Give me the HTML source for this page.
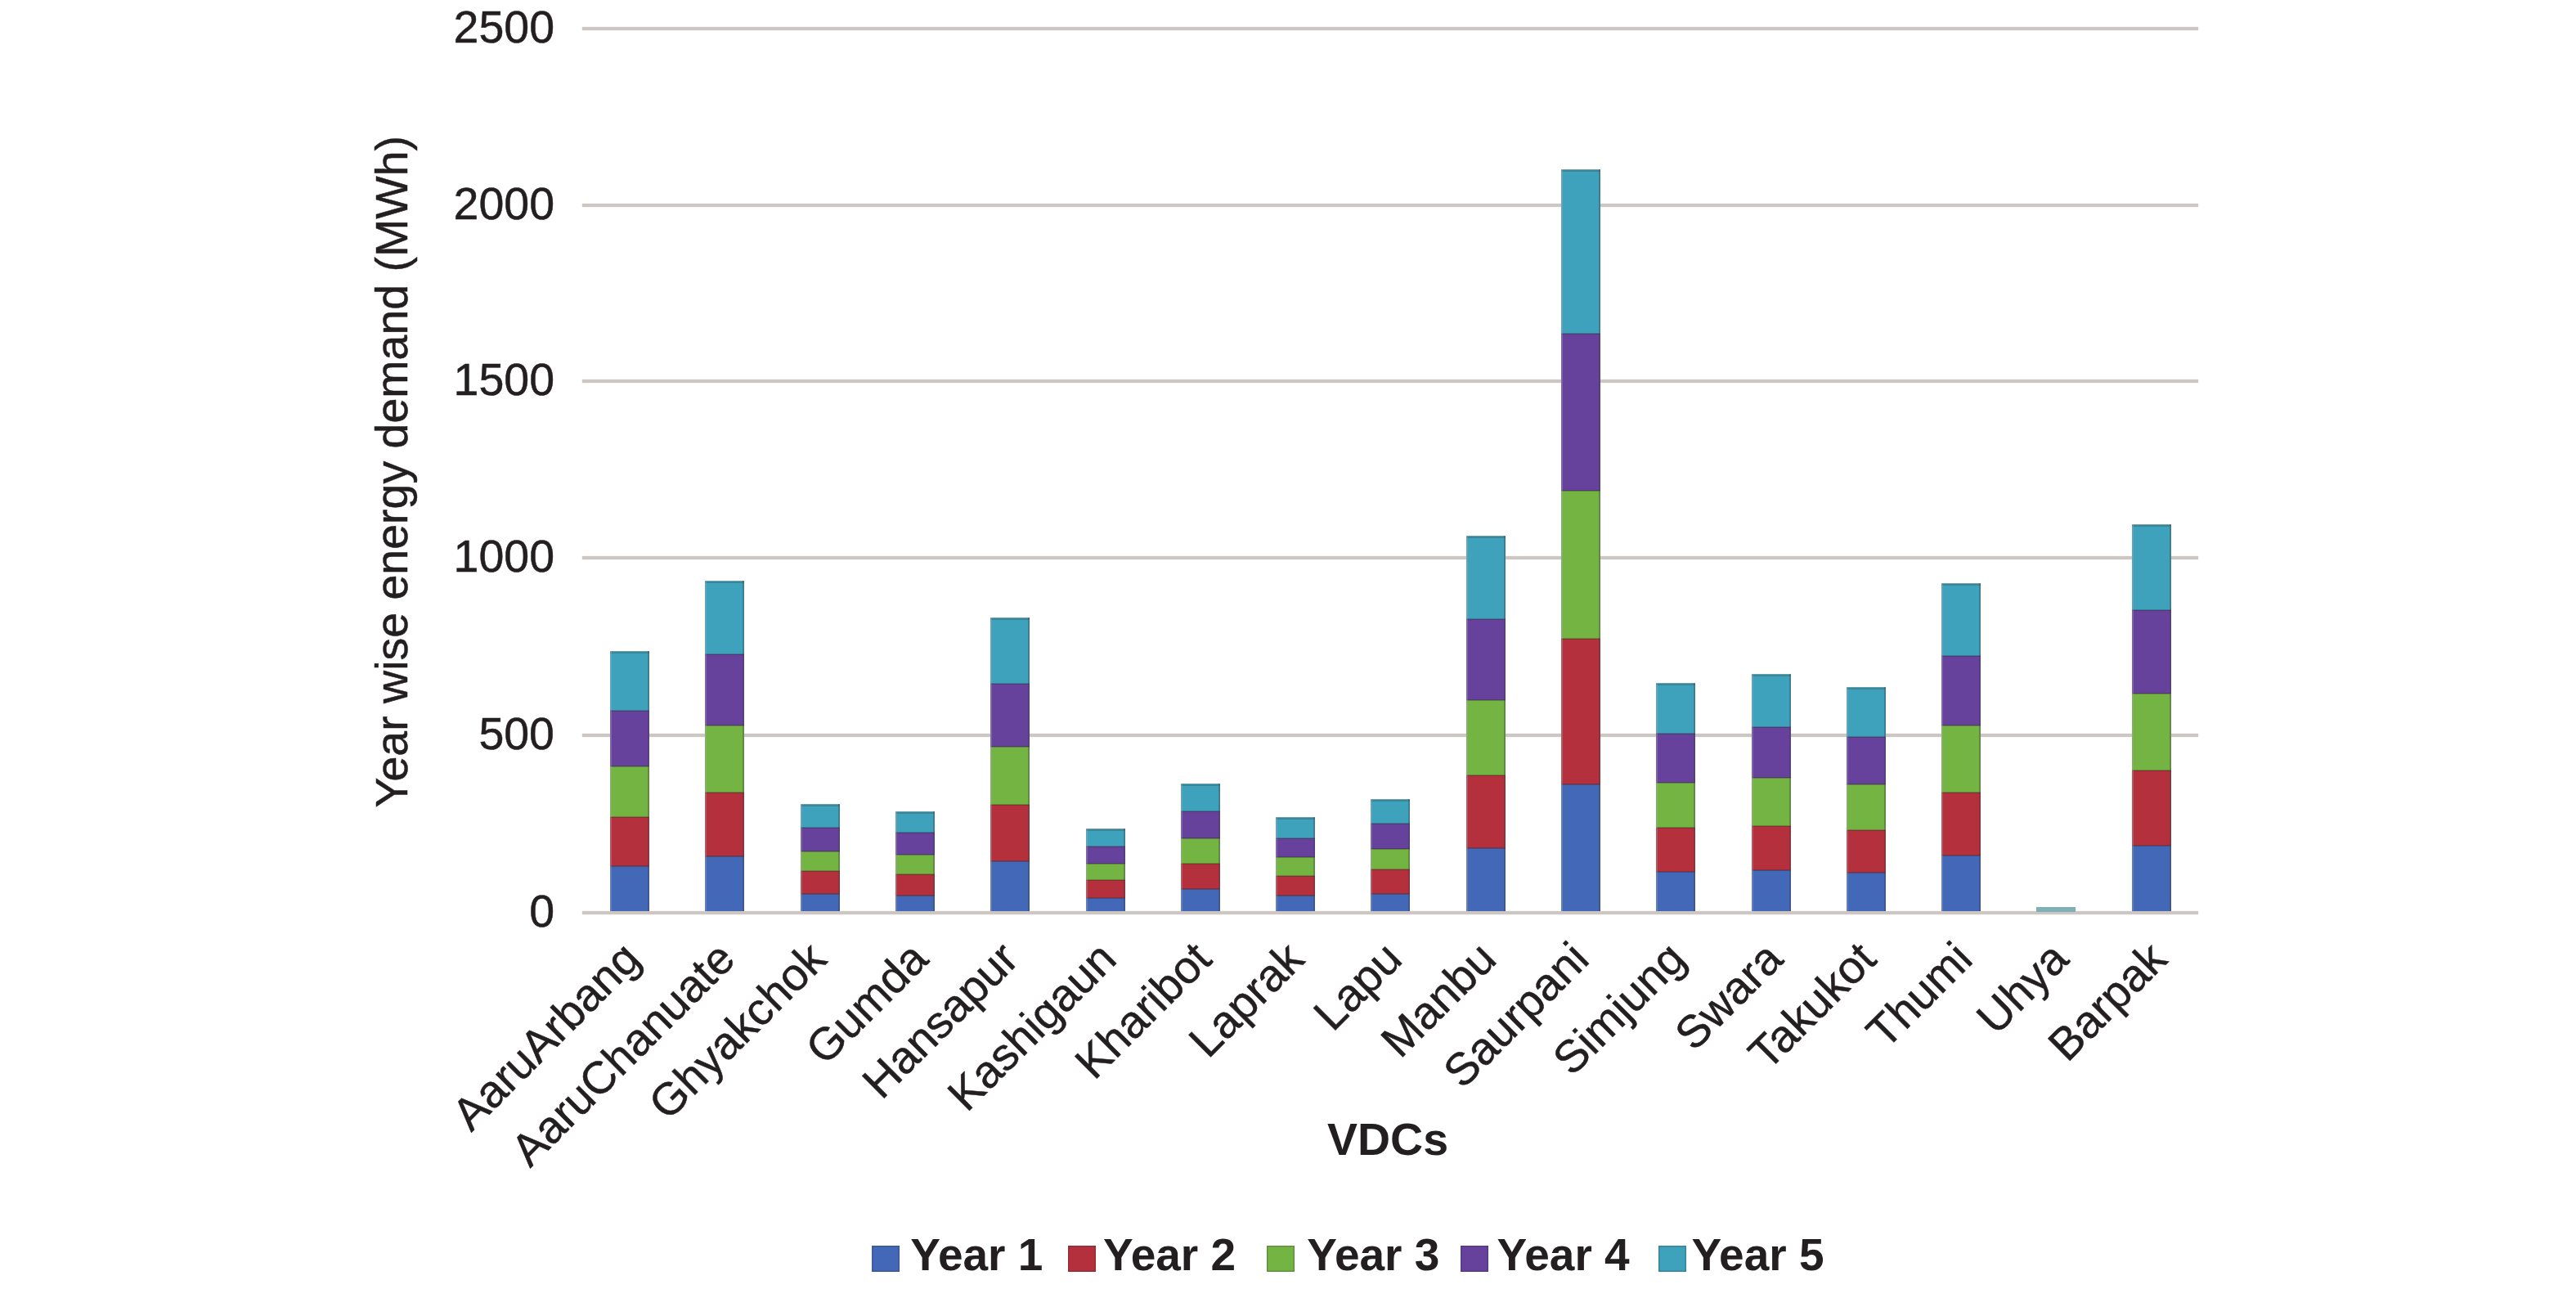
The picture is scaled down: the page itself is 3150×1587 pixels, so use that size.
<!DOCTYPE html><html><head><meta charset="utf-8"><style>
html,body{margin:0;padding:0;background:#fff;}
body{width:3150px;height:1587px;position:relative;overflow:hidden;font-family:"Liberation Sans",sans-serif;color:#231f20;}
.a{position:absolute;}
.t{-webkit-text-stroke:0.5px #231f20;}
.gl{position:absolute;left:712px;width:1976px;height:4px;background:#cdc7c4;box-shadow:0 0 1.5px rgba(205,199,196,0.8);}
.yl{position:absolute;right:2472px;font-size:55.5px;line-height:1;white-space:nowrap;}
.seg{position:absolute;}
.xl{position:absolute;font-size:55.5px;line-height:1;white-space:nowrap;transform-origin:100% 0;transform:rotate(-45deg);}
.lg{position:absolute;font-size:55px;font-weight:bold;line-height:1;white-space:nowrap;}
.sw{position:absolute;width:34px;height:32px;box-shadow:inset 0 0 0 1.5px rgba(40,40,40,0.25);}
</style></head><body>
<div class="gl" style="top:32.8px"></div>
<div class="gl" style="top:249.2px"></div>
<div class="gl" style="top:464.0px"></div>
<div class="gl" style="top:680.2px"></div>
<div class="gl" style="top:897.4px"></div>
<div class="gl" style="top:1114.0px"></div>
<div class="yl t" style="top:5.8px">2500</div>
<div class="yl t" style="top:222.2px">2000</div>
<div class="yl t" style="top:437.0px">1500</div>
<div class="yl t" style="top:653.2px">1000</div>
<div class="yl t" style="top:870.4px">500</div>
<div class="yl t" style="top:1087.0px">0</div>
<div class="seg" style="left:746.2px;top:796.0px;width:48px;height:318.0px;background:#3FA2BD"></div>
<div class="seg" style="left:746.2px;top:869.0px;width:48px;height:245.0px;background:#66429D"></div>
<div class="seg" style="left:746.2px;top:936.5px;width:48px;height:177.5px;background:#74B443"></div>
<div class="seg" style="left:746.2px;top:999.0px;width:48px;height:115.0px;background:#B4303D"></div>
<div class="seg" style="left:746.2px;top:1058.5px;width:48px;height:55.5px;background:#4368B7"></div>
<div class="seg" style="left:746.2px;top:868.0px;width:48px;height:2px;background:rgba(40,30,30,0.28)"></div>
<div class="seg" style="left:746.2px;top:935.5px;width:48px;height:2px;background:rgba(40,30,30,0.28)"></div>
<div class="seg" style="left:746.2px;top:998.0px;width:48px;height:2px;background:rgba(40,30,30,0.28)"></div>
<div class="seg" style="left:746.2px;top:1057.5px;width:48px;height:2px;background:rgba(40,30,30,0.28)"></div>
<div class="seg" style="left:746.2px;top:796.0px;width:48px;height:318.0px;box-shadow:inset -2px 0 0 rgba(60,60,70,0.35), inset 2px 0 0 rgba(170,170,180,0.35), inset 0 3px 0 rgba(40,40,40,0.22), inset 0 1px 0 rgba(255,255,255,0.3)"></div>
<div class="seg" style="left:862.4px;top:710.0px;width:48px;height:404.0px;background:#3FA2BD"></div>
<div class="seg" style="left:862.4px;top:800.0px;width:48px;height:314.0px;background:#66429D"></div>
<div class="seg" style="left:862.4px;top:887.0px;width:48px;height:227.0px;background:#74B443"></div>
<div class="seg" style="left:862.4px;top:968.6px;width:48px;height:145.4px;background:#B4303D"></div>
<div class="seg" style="left:862.4px;top:1046.5px;width:48px;height:67.5px;background:#4368B7"></div>
<div class="seg" style="left:862.4px;top:799.0px;width:48px;height:2px;background:rgba(40,30,30,0.28)"></div>
<div class="seg" style="left:862.4px;top:886.0px;width:48px;height:2px;background:rgba(40,30,30,0.28)"></div>
<div class="seg" style="left:862.4px;top:967.6px;width:48px;height:2px;background:rgba(40,30,30,0.28)"></div>
<div class="seg" style="left:862.4px;top:1045.5px;width:48px;height:2px;background:rgba(40,30,30,0.28)"></div>
<div class="seg" style="left:862.4px;top:710.0px;width:48px;height:404.0px;box-shadow:inset -2px 0 0 rgba(60,60,70,0.35), inset 2px 0 0 rgba(170,170,180,0.35), inset 0 3px 0 rgba(40,40,40,0.22), inset 0 1px 0 rgba(255,255,255,0.3)"></div>
<div class="seg" style="left:978.7px;top:983.2px;width:48px;height:130.8px;background:#3FA2BD"></div>
<div class="seg" style="left:978.7px;top:1012.0px;width:48px;height:102.0px;background:#66429D"></div>
<div class="seg" style="left:978.7px;top:1040.5px;width:48px;height:73.5px;background:#74B443"></div>
<div class="seg" style="left:978.7px;top:1065.3px;width:48px;height:48.7px;background:#B4303D"></div>
<div class="seg" style="left:978.7px;top:1092.5px;width:48px;height:21.5px;background:#4368B7"></div>
<div class="seg" style="left:978.7px;top:1011.0px;width:48px;height:2px;background:rgba(40,30,30,0.28)"></div>
<div class="seg" style="left:978.7px;top:1039.5px;width:48px;height:2px;background:rgba(40,30,30,0.28)"></div>
<div class="seg" style="left:978.7px;top:1064.3px;width:48px;height:2px;background:rgba(40,30,30,0.28)"></div>
<div class="seg" style="left:978.7px;top:1091.5px;width:48px;height:2px;background:rgba(40,30,30,0.28)"></div>
<div class="seg" style="left:978.7px;top:983.2px;width:48px;height:130.8px;box-shadow:inset -2px 0 0 rgba(60,60,70,0.35), inset 2px 0 0 rgba(170,170,180,0.35), inset 0 3px 0 rgba(40,40,40,0.22), inset 0 1px 0 rgba(255,255,255,0.3)"></div>
<div class="seg" style="left:1095.0px;top:991.9px;width:48px;height:122.1px;background:#3FA2BD"></div>
<div class="seg" style="left:1095.0px;top:1017.5px;width:48px;height:96.5px;background:#66429D"></div>
<div class="seg" style="left:1095.0px;top:1044.8px;width:48px;height:69.2px;background:#74B443"></div>
<div class="seg" style="left:1095.0px;top:1068.6px;width:48px;height:45.4px;background:#B4303D"></div>
<div class="seg" style="left:1095.0px;top:1094.8px;width:48px;height:19.2px;background:#4368B7"></div>
<div class="seg" style="left:1095.0px;top:1016.5px;width:48px;height:2px;background:rgba(40,30,30,0.28)"></div>
<div class="seg" style="left:1095.0px;top:1043.8px;width:48px;height:2px;background:rgba(40,30,30,0.28)"></div>
<div class="seg" style="left:1095.0px;top:1067.6px;width:48px;height:2px;background:rgba(40,30,30,0.28)"></div>
<div class="seg" style="left:1095.0px;top:1093.8px;width:48px;height:2px;background:rgba(40,30,30,0.28)"></div>
<div class="seg" style="left:1095.0px;top:991.9px;width:48px;height:122.1px;box-shadow:inset -2px 0 0 rgba(60,60,70,0.35), inset 2px 0 0 rgba(170,170,180,0.35), inset 0 3px 0 rgba(40,40,40,0.22), inset 0 1px 0 rgba(255,255,255,0.3)"></div>
<div class="seg" style="left:1211.3px;top:755.3px;width:48px;height:358.7px;background:#3FA2BD"></div>
<div class="seg" style="left:1211.3px;top:835.7px;width:48px;height:278.3px;background:#66429D"></div>
<div class="seg" style="left:1211.3px;top:912.7px;width:48px;height:201.3px;background:#74B443"></div>
<div class="seg" style="left:1211.3px;top:984.2px;width:48px;height:129.8px;background:#B4303D"></div>
<div class="seg" style="left:1211.3px;top:1053.4px;width:48px;height:60.6px;background:#4368B7"></div>
<div class="seg" style="left:1211.3px;top:834.7px;width:48px;height:2px;background:rgba(40,30,30,0.28)"></div>
<div class="seg" style="left:1211.3px;top:911.7px;width:48px;height:2px;background:rgba(40,30,30,0.28)"></div>
<div class="seg" style="left:1211.3px;top:983.2px;width:48px;height:2px;background:rgba(40,30,30,0.28)"></div>
<div class="seg" style="left:1211.3px;top:1052.4px;width:48px;height:2px;background:rgba(40,30,30,0.28)"></div>
<div class="seg" style="left:1211.3px;top:755.3px;width:48px;height:358.7px;box-shadow:inset -2px 0 0 rgba(60,60,70,0.35), inset 2px 0 0 rgba(170,170,180,0.35), inset 0 3px 0 rgba(40,40,40,0.22), inset 0 1px 0 rgba(255,255,255,0.3)"></div>
<div class="seg" style="left:1327.6px;top:1012.5px;width:48px;height:101.5px;background:#3FA2BD"></div>
<div class="seg" style="left:1327.6px;top:1035.2px;width:48px;height:78.8px;background:#66429D"></div>
<div class="seg" style="left:1327.6px;top:1055.8px;width:48px;height:58.2px;background:#74B443"></div>
<div class="seg" style="left:1327.6px;top:1076.2px;width:48px;height:37.8px;background:#B4303D"></div>
<div class="seg" style="left:1327.6px;top:1097.8px;width:48px;height:16.2px;background:#4368B7"></div>
<div class="seg" style="left:1327.6px;top:1034.2px;width:48px;height:2px;background:rgba(40,30,30,0.28)"></div>
<div class="seg" style="left:1327.6px;top:1054.8px;width:48px;height:2px;background:rgba(40,30,30,0.28)"></div>
<div class="seg" style="left:1327.6px;top:1075.2px;width:48px;height:2px;background:rgba(40,30,30,0.28)"></div>
<div class="seg" style="left:1327.6px;top:1096.8px;width:48px;height:2px;background:rgba(40,30,30,0.28)"></div>
<div class="seg" style="left:1327.6px;top:1012.5px;width:48px;height:101.5px;box-shadow:inset -2px 0 0 rgba(60,60,70,0.35), inset 2px 0 0 rgba(170,170,180,0.35), inset 0 3px 0 rgba(40,40,40,0.22), inset 0 1px 0 rgba(255,255,255,0.3)"></div>
<div class="seg" style="left:1443.8px;top:958.4px;width:48px;height:155.6px;background:#3FA2BD"></div>
<div class="seg" style="left:1443.8px;top:991.9px;width:48px;height:122.1px;background:#66429D"></div>
<div class="seg" style="left:1443.8px;top:1024.6px;width:48px;height:89.4px;background:#74B443"></div>
<div class="seg" style="left:1443.8px;top:1055.7px;width:48px;height:58.3px;background:#B4303D"></div>
<div class="seg" style="left:1443.8px;top:1086.8px;width:48px;height:27.2px;background:#4368B7"></div>
<div class="seg" style="left:1443.8px;top:990.9px;width:48px;height:2px;background:rgba(40,30,30,0.28)"></div>
<div class="seg" style="left:1443.8px;top:1023.6px;width:48px;height:2px;background:rgba(40,30,30,0.28)"></div>
<div class="seg" style="left:1443.8px;top:1054.7px;width:48px;height:2px;background:rgba(40,30,30,0.28)"></div>
<div class="seg" style="left:1443.8px;top:1085.8px;width:48px;height:2px;background:rgba(40,30,30,0.28)"></div>
<div class="seg" style="left:1443.8px;top:958.4px;width:48px;height:155.6px;box-shadow:inset -2px 0 0 rgba(60,60,70,0.35), inset 2px 0 0 rgba(170,170,180,0.35), inset 0 3px 0 rgba(40,40,40,0.22), inset 0 1px 0 rgba(255,255,255,0.3)"></div>
<div class="seg" style="left:1560.1px;top:999.4px;width:48px;height:114.6px;background:#3FA2BD"></div>
<div class="seg" style="left:1560.1px;top:1025.2px;width:48px;height:88.8px;background:#66429D"></div>
<div class="seg" style="left:1560.1px;top:1048.1px;width:48px;height:65.9px;background:#74B443"></div>
<div class="seg" style="left:1560.1px;top:1070.8px;width:48px;height:43.2px;background:#B4303D"></div>
<div class="seg" style="left:1560.1px;top:1095.0px;width:48px;height:19.0px;background:#4368B7"></div>
<div class="seg" style="left:1560.1px;top:1024.2px;width:48px;height:2px;background:rgba(40,30,30,0.28)"></div>
<div class="seg" style="left:1560.1px;top:1047.1px;width:48px;height:2px;background:rgba(40,30,30,0.28)"></div>
<div class="seg" style="left:1560.1px;top:1069.8px;width:48px;height:2px;background:rgba(40,30,30,0.28)"></div>
<div class="seg" style="left:1560.1px;top:1094.0px;width:48px;height:2px;background:rgba(40,30,30,0.28)"></div>
<div class="seg" style="left:1560.1px;top:999.4px;width:48px;height:114.6px;box-shadow:inset -2px 0 0 rgba(60,60,70,0.35), inset 2px 0 0 rgba(170,170,180,0.35), inset 0 3px 0 rgba(40,40,40,0.22), inset 0 1px 0 rgba(255,255,255,0.3)"></div>
<div class="seg" style="left:1676.4px;top:977.0px;width:48px;height:137.0px;background:#3FA2BD"></div>
<div class="seg" style="left:1676.4px;top:1006.5px;width:48px;height:107.5px;background:#66429D"></div>
<div class="seg" style="left:1676.4px;top:1038.2px;width:48px;height:75.8px;background:#74B443"></div>
<div class="seg" style="left:1676.4px;top:1063.0px;width:48px;height:51.0px;background:#B4303D"></div>
<div class="seg" style="left:1676.4px;top:1092.5px;width:48px;height:21.5px;background:#4368B7"></div>
<div class="seg" style="left:1676.4px;top:1005.5px;width:48px;height:2px;background:rgba(40,30,30,0.28)"></div>
<div class="seg" style="left:1676.4px;top:1037.2px;width:48px;height:2px;background:rgba(40,30,30,0.28)"></div>
<div class="seg" style="left:1676.4px;top:1062.0px;width:48px;height:2px;background:rgba(40,30,30,0.28)"></div>
<div class="seg" style="left:1676.4px;top:1091.5px;width:48px;height:2px;background:rgba(40,30,30,0.28)"></div>
<div class="seg" style="left:1676.4px;top:977.0px;width:48px;height:137.0px;box-shadow:inset -2px 0 0 rgba(60,60,70,0.35), inset 2px 0 0 rgba(170,170,180,0.35), inset 0 3px 0 rgba(40,40,40,0.22), inset 0 1px 0 rgba(255,255,255,0.3)"></div>
<div class="seg" style="left:1792.7px;top:655.3px;width:48px;height:458.7px;background:#3FA2BD"></div>
<div class="seg" style="left:1792.7px;top:756.8px;width:48px;height:357.2px;background:#66429D"></div>
<div class="seg" style="left:1792.7px;top:856.2px;width:48px;height:257.8px;background:#74B443"></div>
<div class="seg" style="left:1792.7px;top:947.6px;width:48px;height:166.4px;background:#B4303D"></div>
<div class="seg" style="left:1792.7px;top:1036.6px;width:48px;height:77.4px;background:#4368B7"></div>
<div class="seg" style="left:1792.7px;top:755.8px;width:48px;height:2px;background:rgba(40,30,30,0.28)"></div>
<div class="seg" style="left:1792.7px;top:855.2px;width:48px;height:2px;background:rgba(40,30,30,0.28)"></div>
<div class="seg" style="left:1792.7px;top:946.6px;width:48px;height:2px;background:rgba(40,30,30,0.28)"></div>
<div class="seg" style="left:1792.7px;top:1035.6px;width:48px;height:2px;background:rgba(40,30,30,0.28)"></div>
<div class="seg" style="left:1792.7px;top:655.3px;width:48px;height:458.7px;box-shadow:inset -2px 0 0 rgba(60,60,70,0.35), inset 2px 0 0 rgba(170,170,180,0.35), inset 0 3px 0 rgba(40,40,40,0.22), inset 0 1px 0 rgba(255,255,255,0.3)"></div>
<div class="seg" style="left:1909.0px;top:206.5px;width:48px;height:907.5px;background:#3FA2BD"></div>
<div class="seg" style="left:1909.0px;top:407.5px;width:48px;height:706.5px;background:#66429D"></div>
<div class="seg" style="left:1909.0px;top:600.0px;width:48px;height:514.0px;background:#74B443"></div>
<div class="seg" style="left:1909.0px;top:780.8px;width:48px;height:333.2px;background:#B4303D"></div>
<div class="seg" style="left:1909.0px;top:958.8px;width:48px;height:155.2px;background:#4368B7"></div>
<div class="seg" style="left:1909.0px;top:406.5px;width:48px;height:2px;background:rgba(40,30,30,0.28)"></div>
<div class="seg" style="left:1909.0px;top:599.0px;width:48px;height:2px;background:rgba(40,30,30,0.28)"></div>
<div class="seg" style="left:1909.0px;top:779.8px;width:48px;height:2px;background:rgba(40,30,30,0.28)"></div>
<div class="seg" style="left:1909.0px;top:957.8px;width:48px;height:2px;background:rgba(40,30,30,0.28)"></div>
<div class="seg" style="left:1909.0px;top:206.5px;width:48px;height:907.5px;box-shadow:inset -2px 0 0 rgba(60,60,70,0.35), inset 2px 0 0 rgba(170,170,180,0.35), inset 0 3px 0 rgba(40,40,40,0.22), inset 0 1px 0 rgba(255,255,255,0.3)"></div>
<div class="seg" style="left:2025.2px;top:835.4px;width:48px;height:278.6px;background:#3FA2BD"></div>
<div class="seg" style="left:2025.2px;top:896.6px;width:48px;height:217.4px;background:#66429D"></div>
<div class="seg" style="left:2025.2px;top:956.5px;width:48px;height:157.5px;background:#74B443"></div>
<div class="seg" style="left:2025.2px;top:1012.4px;width:48px;height:101.6px;background:#B4303D"></div>
<div class="seg" style="left:2025.2px;top:1066.1px;width:48px;height:47.9px;background:#4368B7"></div>
<div class="seg" style="left:2025.2px;top:895.6px;width:48px;height:2px;background:rgba(40,30,30,0.28)"></div>
<div class="seg" style="left:2025.2px;top:955.5px;width:48px;height:2px;background:rgba(40,30,30,0.28)"></div>
<div class="seg" style="left:2025.2px;top:1011.4px;width:48px;height:2px;background:rgba(40,30,30,0.28)"></div>
<div class="seg" style="left:2025.2px;top:1065.1px;width:48px;height:2px;background:rgba(40,30,30,0.28)"></div>
<div class="seg" style="left:2025.2px;top:835.4px;width:48px;height:278.6px;box-shadow:inset -2px 0 0 rgba(60,60,70,0.35), inset 2px 0 0 rgba(170,170,180,0.35), inset 0 3px 0 rgba(40,40,40,0.22), inset 0 1px 0 rgba(255,255,255,0.3)"></div>
<div class="seg" style="left:2141.5px;top:824.2px;width:48px;height:289.8px;background:#3FA2BD"></div>
<div class="seg" style="left:2141.5px;top:888.8px;width:48px;height:225.2px;background:#66429D"></div>
<div class="seg" style="left:2141.5px;top:951.0px;width:48px;height:163.0px;background:#74B443"></div>
<div class="seg" style="left:2141.5px;top:1009.6px;width:48px;height:104.4px;background:#B4303D"></div>
<div class="seg" style="left:2141.5px;top:1063.7px;width:48px;height:50.3px;background:#4368B7"></div>
<div class="seg" style="left:2141.5px;top:887.8px;width:48px;height:2px;background:rgba(40,30,30,0.28)"></div>
<div class="seg" style="left:2141.5px;top:950.0px;width:48px;height:2px;background:rgba(40,30,30,0.28)"></div>
<div class="seg" style="left:2141.5px;top:1008.6px;width:48px;height:2px;background:rgba(40,30,30,0.28)"></div>
<div class="seg" style="left:2141.5px;top:1062.7px;width:48px;height:2px;background:rgba(40,30,30,0.28)"></div>
<div class="seg" style="left:2141.5px;top:824.2px;width:48px;height:289.8px;box-shadow:inset -2px 0 0 rgba(60,60,70,0.35), inset 2px 0 0 rgba(170,170,180,0.35), inset 0 3px 0 rgba(40,40,40,0.22), inset 0 1px 0 rgba(255,255,255,0.3)"></div>
<div class="seg" style="left:2257.8px;top:840.0px;width:48px;height:274.0px;background:#3FA2BD"></div>
<div class="seg" style="left:2257.8px;top:900.9px;width:48px;height:213.1px;background:#66429D"></div>
<div class="seg" style="left:2257.8px;top:958.9px;width:48px;height:155.1px;background:#74B443"></div>
<div class="seg" style="left:2257.8px;top:1015.2px;width:48px;height:98.8px;background:#B4303D"></div>
<div class="seg" style="left:2257.8px;top:1066.7px;width:48px;height:47.3px;background:#4368B7"></div>
<div class="seg" style="left:2257.8px;top:899.9px;width:48px;height:2px;background:rgba(40,30,30,0.28)"></div>
<div class="seg" style="left:2257.8px;top:957.9px;width:48px;height:2px;background:rgba(40,30,30,0.28)"></div>
<div class="seg" style="left:2257.8px;top:1014.2px;width:48px;height:2px;background:rgba(40,30,30,0.28)"></div>
<div class="seg" style="left:2257.8px;top:1065.7px;width:48px;height:2px;background:rgba(40,30,30,0.28)"></div>
<div class="seg" style="left:2257.8px;top:840.0px;width:48px;height:274.0px;box-shadow:inset -2px 0 0 rgba(60,60,70,0.35), inset 2px 0 0 rgba(170,170,180,0.35), inset 0 3px 0 rgba(40,40,40,0.22), inset 0 1px 0 rgba(255,255,255,0.3)"></div>
<div class="seg" style="left:2374.1px;top:713.2px;width:48px;height:400.8px;background:#3FA2BD"></div>
<div class="seg" style="left:2374.1px;top:801.8px;width:48px;height:312.2px;background:#66429D"></div>
<div class="seg" style="left:2374.1px;top:886.6px;width:48px;height:227.4px;background:#74B443"></div>
<div class="seg" style="left:2374.1px;top:968.6px;width:48px;height:145.4px;background:#B4303D"></div>
<div class="seg" style="left:2374.1px;top:1046.4px;width:48px;height:67.6px;background:#4368B7"></div>
<div class="seg" style="left:2374.1px;top:800.8px;width:48px;height:2px;background:rgba(40,30,30,0.28)"></div>
<div class="seg" style="left:2374.1px;top:885.6px;width:48px;height:2px;background:rgba(40,30,30,0.28)"></div>
<div class="seg" style="left:2374.1px;top:967.6px;width:48px;height:2px;background:rgba(40,30,30,0.28)"></div>
<div class="seg" style="left:2374.1px;top:1045.4px;width:48px;height:2px;background:rgba(40,30,30,0.28)"></div>
<div class="seg" style="left:2374.1px;top:713.2px;width:48px;height:400.8px;box-shadow:inset -2px 0 0 rgba(60,60,70,0.35), inset 2px 0 0 rgba(170,170,180,0.35), inset 0 3px 0 rgba(40,40,40,0.22), inset 0 1px 0 rgba(255,255,255,0.3)"></div>
<div class="seg" style="left:2490.4px;top:1109px;width:48px;height:6px;background:#7fb0b5"></div>
<div class="seg" style="left:2606.6px;top:641.2px;width:48px;height:472.8px;background:#3FA2BD"></div>
<div class="seg" style="left:2606.6px;top:746.3px;width:48px;height:367.7px;background:#66429D"></div>
<div class="seg" style="left:2606.6px;top:848.0px;width:48px;height:266.0px;background:#74B443"></div>
<div class="seg" style="left:2606.6px;top:941.6px;width:48px;height:172.4px;background:#B4303D"></div>
<div class="seg" style="left:2606.6px;top:1034.1px;width:48px;height:79.9px;background:#4368B7"></div>
<div class="seg" style="left:2606.6px;top:745.3px;width:48px;height:2px;background:rgba(40,30,30,0.28)"></div>
<div class="seg" style="left:2606.6px;top:847.0px;width:48px;height:2px;background:rgba(40,30,30,0.28)"></div>
<div class="seg" style="left:2606.6px;top:940.6px;width:48px;height:2px;background:rgba(40,30,30,0.28)"></div>
<div class="seg" style="left:2606.6px;top:1033.1px;width:48px;height:2px;background:rgba(40,30,30,0.28)"></div>
<div class="seg" style="left:2606.6px;top:641.2px;width:48px;height:472.8px;box-shadow:inset -2px 0 0 rgba(60,60,70,0.35), inset 2px 0 0 rgba(170,170,180,0.35), inset 0 3px 0 rgba(40,40,40,0.22), inset 0 1px 0 rgba(255,255,255,0.3)"></div>
<div class="xl t" style="right:2397.3px;top:1142.5px">AaruArbang</div>
<div class="xl t" style="right:2280.6px;top:1142.5px">AaruChanuate</div>
<div class="xl t" style="right:2169.4px;top:1142.5px">Ghyakchok</div>
<div class="xl t" style="right:2045.0px;top:1142.5px">Gumda</div>
<div class="xl t" style="right:1934.2px;top:1142.5px">Hansapur</div>
<div class="xl t" style="right:1814.4px;top:1142.5px">Kashigaun</div>
<div class="xl t" style="right:1698.2px;top:1142.5px">Kharibot</div>
<div class="xl t" style="right:1584.9px;top:1142.5px">Laprak</div>
<div class="xl t" style="right:1465.6px;top:1142.5px">Lapu</div>
<div class="xl t" style="right:1350.8px;top:1142.5px">Manbu</div>
<div class="xl t" style="right:1236.5px;top:1142.5px">Saurpani</div>
<div class="xl t" style="right:1118.3px;top:1142.5px">Simjung</div>
<div class="xl t" style="right:1000.0px;top:1142.5px">Swara</div>
<div class="xl t" style="right:885.7px;top:1142.5px">Takukot</div>
<div class="xl t" style="right:767.4px;top:1142.5px">Thumi</div>
<div class="xl t" style="right:650.1px;top:1142.5px">Uhya</div>
<div class="xl t" style="right:530.4px;top:1142.5px">Barpak</div>
<div class="a t" style="left:0;top:0;width:814px;font-size:55.5px;line-height:1;white-space:nowrap;transform-origin:0 0;transform:translate(452px,987.5px) rotate(-90deg);">Year wise energy demand (MWh)</div>
<div class="a" style="left:1623px;top:1365.7px;font-size:55.5px;font-weight:bold;line-height:1;">VDCs</div>
<div class="sw" style="left:1065.8px;top:1523px;background:#4368B7"></div>
<div class="lg" style="left:1113.3px;top:1506.5px">Year 1</div>
<div class="sw" style="left:1306.2px;top:1523px;background:#B4303D"></div>
<div class="lg" style="left:1349.0px;top:1506.5px">Year 2</div>
<div class="sw" style="left:1548.5px;top:1523px;background:#74B443"></div>
<div class="lg" style="left:1598.3px;top:1506.5px">Year 3</div>
<div class="sw" style="left:1785.9px;top:1523px;background:#66429D"></div>
<div class="lg" style="left:1830.6px;top:1506.5px">Year 4</div>
<div class="sw" style="left:2027.8px;top:1523px;background:#3FA2BD"></div>
<div class="lg" style="left:2068.4px;top:1506.5px">Year 5</div>
</body></html>
